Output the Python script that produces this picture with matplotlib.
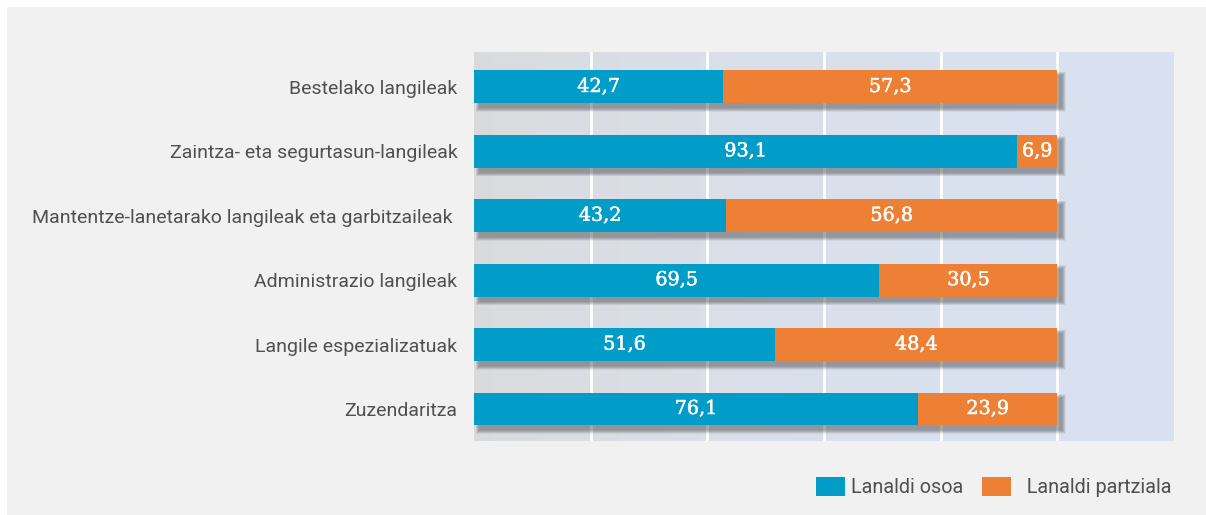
import matplotlib.pyplot as plt
import matplotlib.patheffects as pe
import numpy as np
from matplotlib.patches import Rectangle

# Lanaldi motak lanbide-taldeka (%)
kategoriak = ["Zuzendaritza",
              "Langile espezializatuak",
              "Administrazio langileak",
              "Mantentze-lanetarako langileak eta garbitzaileak ",
              "Zaintza- eta segurtasun-langileak",
              "Bestelako langileak"]
osoa = [76.1, 51.6, 69.5, 43.2, 93.1, 42.7]
partziala = [23.9, 48.4, 30.5, 56.8, 6.9, 57.3]
serie_izenak = ["Lanaldi osoa", "  Lanaldi partziala"]

urdina = '#019dc8'
laranja = '#ed8034'
testu_kolorea = '#505050'

fig = plt.figure(figsize=(12.06, 5.15), dpi=100, facecolor='white')
# atzeko lauki grisa
fig.patches.append(Rectangle((7/1206, 0), 1, 1 - 7/515, transform=fig.transFigure,
                             facecolor='#f1f1f1', edgecolor='none', zorder=-10))

ax = fig.add_axes([474/1206, 1 - 441/515, 700/1206, 389/515])
ylim = (-0.497, 5.543)
ax.set_xlim(0, 120)
ax.set_ylim(*ylim)

# gradientea: grisetik urdin argira
x = np.linspace(0, 1, 300)
t = np.clip(x / (100/120), 0, 1) ** 0.6
ezk = np.array([0.855, 0.855, 0.855])
esk = np.array([0.851, 0.886, 0.945])
kol = ezk[None, :] * (1 - t[:, None]) + esk[None, :] * t[:, None]
ax.imshow(kol[None, :, :], extent=[0, 120, ylim[0], ylim[1]], aspect='auto', zorder=0)

for g in [20, 40, 60, 80, 100]:
    ax.axvline(g, color='white', lw=2, zorder=1)

y = np.arange(len(kategoriak))
h = 0.512
# itzala barren azpian (pixelak datu-unitateetara)
px = 120 / 700
py = (ylim[1] - ylim[0]) / 389
for yi in y:
    for k in range(8):
        ax.add_patch(Rectangle((5*px - k*px*0.5, yi - h/2 - 5*py - k*py*0.5),
                               100 + k*px, h + k*py,
                               facecolor='#3a3a3a', edgecolor='none', alpha=0.065, zorder=2))

b1 = ax.barh(y, osoa, height=h, color=urdina, label=serie_izenak[0], zorder=3)
b2 = ax.barh(y, partziala, left=osoa, height=h, color=laranja, label=serie_izenak[1], zorder=3)

lodi = [pe.withStroke(linewidth=0.35, foreground='white')]
for yi, a, b in zip(y, osoa, partziala):
    ax.text(a/2, yi, f"{a:.1f}".replace('.', ','), ha='center', va='center',
            color='white', fontsize=13.8, family='DejaVu Serif', zorder=4, path_effects=lodi)
    ax.text(a + b/2, yi, f"{b:.1f}".replace('.', ','), ha='center', va='center',
            color='white', fontsize=13.8, family='DejaVu Serif', zorder=4, path_effects=lodi)

ax.set_yticks(y)
ax.set_yticklabels(kategoriak, fontsize=14, color=testu_kolorea, family='Roboto')
ax.tick_params(axis='y', length=0, pad=12)
ax.set_xticks([])
for s in ax.spines.values():
    s.set_visible(False)

fig.legend(handles=[b1, b2], labels=serie_izenak, loc='center left',
           bbox_to_anchor=(816/1206, 1 - 487/515), ncol=2, frameon=False,
           prop={'family': 'Roboto', 'size': 14.3}, labelcolor=testu_kolorea,
           handlelength=1.45, handleheight=1.15, handletextpad=0.3,
           columnspacing=0.95, borderpad=0, borderaxespad=0)

fig.savefig('out.png', dpi=100, facecolor=fig.get_facecolor())
